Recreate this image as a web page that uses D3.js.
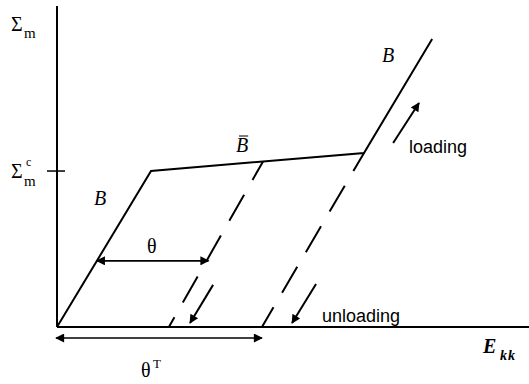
<!DOCTYPE html>
<html>
<head>
<meta charset="utf-8">
<script src="https://cdn.jsdelivr.net/npm/d3@7"></script>
<style>
  html, body { margin: 0; padding: 0; background: #fff; }
  svg { display: block; }
  .serif { font-family: "Liberation Serif", "DejaVu Serif", serif; }
  .sans { font-family: "Liberation Sans", Arial, sans-serif; }
</style>
</head>
<body>
<svg id="chart" width="529" height="384"></svg>
<script>
// Loading path: elastic branch B, hardening branch B̄, reloading branch B
const pathE = [0, 2.0, 6.53, 7.98];
const pathS = [0, 5.0, 5.58, 9.23];

// Elastic unloading lines (dashed), from the B̄ branch down to zero stress
const unloadTopE = [4.38, 6.53];
const unloadTopS = [5.30, 5.58];
const unloadBottomE = [2.38, 4.36];

// Critical stress and the transformation strain markers
const sigmaC = 5.0;
const thetaT = 4.36;
const thetaLevel = 2.12;

// Direction arrows: [E0, S0, E1, S1]
const unloadArrows = [[3.32, 1.35, 2.83, 0.13], [5.51, 1.38, 5.0, 0.13]];
const loadArrow = [7.15, 5.90, 7.70, 7.18];

const svg = d3.select("#chart");
const x = d3.scaleLinear().domain([0, 10.04]).range([57, 529]);
const y = d3.scaleLinear().domain([0, 10.29]).range([327, 6]);

// arrowhead marker
const defs = svg.append("defs");
defs.append("marker")
  .attr("id", "head")
  .attr("viewBox", "0 0 10 10")
  .attr("refX", 9).attr("refY", 5)
  .attr("markerWidth", 11).attr("markerHeight", 9)
  .attr("markerUnits", "userSpaceOnUse")
  .attr("orient", "auto-start-reverse")
  .append("path").attr("d", "M0,0 L10,5 L0,10 Z").attr("fill", "#000");

// axes
svg.append("line")
  .attr("x1", x(0)).attr("y1", y(0)).attr("x2", x(0)).attr("y2", y(10.29))
  .attr("stroke", "#000").attr("stroke-width", 2);
svg.append("line")
  .attr("x1", x(0)).attr("y1", y(0)).attr("x2", x(10.04)).attr("y2", y(0))
  .attr("stroke", "#000").attr("stroke-width", 2);

// critical stress tick
svg.append("line")
  .attr("x1", x(0) - 10).attr("x2", x(0) + 8)
  .attr("y1", y(sigmaC)).attr("y2", y(sigmaC))
  .attr("stroke", "#000").attr("stroke-width", 1.5);

// loading path
const line = d3.line().x(d => x(d[0])).y(d => y(d[1]));
svg.append("path")
  .datum(pathE.map((e, i) => [e, pathS[i]]))
  .attr("d", line)
  .attr("fill", "none").attr("stroke", "#000")
  .attr("stroke-width", 2).attr("stroke-linejoin", "miter");

// dashed unloading lines
unloadTopE.forEach((e, i) => {
  svg.append("path")
    .datum([[e, unloadTopS[i]], [unloadBottomE[i], 0]])
    .attr("d", line)
    .attr("fill", "none").attr("stroke", "#000")
    .attr("stroke-width", 2)
    .attr("stroke-dasharray", "30,17")
    .attr("stroke-dashoffset", 9);
});

// theta: from elastic branch to first unloading line at a given stress level
const eOnB = pathE[1] * thetaLevel / pathS[1];
const eOnU = unloadBottomE[0] + (unloadTopE[0] - unloadBottomE[0]) * thetaLevel / unloadTopS[0];
svg.append("line")
  .attr("x1", x(eOnB)).attr("y1", y(thetaLevel))
  .attr("x2", x(eOnU) + 2).attr("y2", y(thetaLevel))
  .attr("stroke", "#000").attr("stroke-width", 1.6)
  .attr("marker-start", "url(#head)").attr("marker-end", "url(#head)");

// theta^T span below the axis
svg.append("line")
  .attr("x1", x(0) - 1).attr("y1", y(0) + 11)
  .attr("x2", x(thetaT)).attr("y2", y(0) + 11)
  .attr("stroke", "#000").attr("stroke-width", 1.6)
  .attr("marker-start", "url(#head)").attr("marker-end", "url(#head)");

// direction arrows
unloadArrows.concat([loadArrow]).forEach(a => {
  svg.append("line")
    .attr("x1", x(a[0])).attr("y1", y(a[1]))
    .attr("x2", x(a[2])).attr("y2", y(a[3]))
    .attr("stroke", "#000").attr("stroke-width", 2)
    .attr("marker-end", "url(#head)");
});

// labels
function txt(xp, yp, s, size, cls, style, weight) {
  return svg.append("text")
    .attr("class", cls)
    .attr("x", xp).attr("y", yp)
    .style("font-size", size + "px")
    .style("font-style", style || "normal")
    .style("font-weight", weight || "normal")
    .attr("fill", "#000").text(s);
}

// Σ_m
txt(11, 31, "Σ", 20, "serif");
txt(24, 38, "m", 15, "serif");
// Σ_m^c
txt(11, 178, "Σ", 20, "serif");
txt(26, 166, "c", 12, "serif");
txt(24, 186, "m", 15, "serif");

// E_kk
txt(483, 353, "E", 20, "serif", "italic", "bold");
txt(500, 360, "kk", 14, "serif", "italic", "bold").attr("letter-spacing", 1);

// branch labels
txt(94, 205, "B", 20, "serif", "italic");
txt(382, 62, "B", 20, "serif", "italic");
const bbar = txt(236, 152, "B", 20, "serif", "italic");
const bb = bbar.node().getBBox();
svg.append("line")
  .attr("x1", bb.x + 3).attr("x2", bb.x + bb.width)
  .attr("y1", bb.y + 2).attr("y2", bb.y + 2)
  .attr("stroke", "#000").attr("stroke-width", 1);

// theta labels
txt(147, 253, "θ", 20, "serif");
txt(141, 377, "θ", 20, "serif");
txt(153, 368, "T", 13, "serif");

// loading / unloading
txt(409, 153, "loading", 18, "sans");
txt(322, 322, "unloading", 18, "sans");
</script>
</body>
</html>
